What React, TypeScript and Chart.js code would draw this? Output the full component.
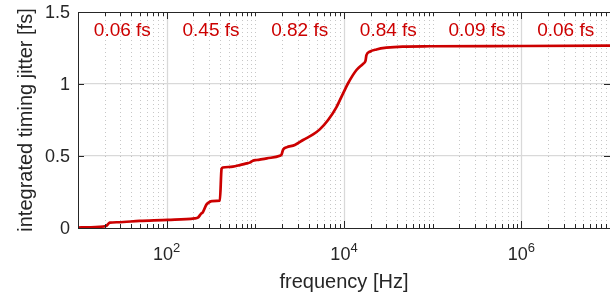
import React, { useEffect, useRef } from "react";
import { Chart, registerables } from "chart.js";

Chart.register(...registerables);

// frequency [Hz]
const freqHz = [
  10, 13, 20.7, 22.8, 28.2, 49.5, 103.5, 206.5, 225, 245, 256, 279, 291.6, 323.5,
  398, 416, 430, 558, 669, 802, 867, 937, 1040, 1349, 1888, 1974, 2058, 2248, 2787,
  3457, 4481, 5330, 6617, 8229, 9770, 11120, 13830, 16410, 17460, 17910, 19500,
  23210, 30080, 45900, 92500, 1e6, 1e7,
];
// integrated timing jitter [fs]
const jitterFs = [
  0.003, 0.005, 0.014, 0.037, 0.04, 0.049, 0.056, 0.067, 0.072, 0.1, 0.11, 0.16, 0.173, 0.187,
  0.19, 0.41, 0.42, 0.426, 0.437, 0.449, 0.454, 0.467, 0.472, 0.484, 0.502, 0.51, 0.545, 0.56, 0.576,
  0.611, 0.65, 0.685, 0.75, 0.84, 0.935, 1.005, 1.097, 1.14, 1.16, 1.2, 1.224,
  1.24, 1.252, 1.26, 1.262, 1.264, 1.266,
];
// per-decade contributions (decade start exponent -> label)
const decadeExponents = [1, 2, 3, 4, 5, 6];
const decadeLabels = ["0.06 fs", "0.45 fs", "0.82 fs", "0.84 fs", "0.09 fs", "0.06 fs"];
// labelled x tick exponents
const xTickExponents = [2, 4, 6];
const yTicks = [0, 0.5, 1, 1.5];

const FONT = "'Liberation Sans', Arial, Helvetica, sans-serif";
const AXIS = "#262626";
const RED = "#cc0000";

const axesPlugin = {
  id: "matlabAxes",
  beforeDatasetsDraw(chart: any) {
    const { ctx, chartArea: a, scales } = chart;
    const xs = scales.x;
    ctx.save();
    for (let e = 1; e <= 6; e++) {
      for (let k = 1; k <= 9; k++) {
        const v = k * Math.pow(10, e);
        if (v === 10) continue;
        const px = Math.round(xs.getPixelForValue(v)) + 0.5;
        const major = k === 1 && xTickExponents.includes(e);
        ctx.beginPath();
        if (major) {
          ctx.setLineDash([]);
          ctx.strokeStyle = "#d9d9d9";
          ctx.lineWidth = 1.3;
        } else {
          ctx.setLineDash([1, 3]);
          ctx.strokeStyle = "rgba(0,0,0,0.22)";
          ctx.lineWidth = 1;
        }
        ctx.moveTo(px, a.top);
        ctx.lineTo(px, a.bottom);
        ctx.stroke();
      }
    }
    ctx.restore();
  },
  afterDatasetsDraw(chart: any) {
    const { ctx, chartArea: a, scales } = chart;
    const xs = scales.x;
    const ys = scales.y;
    ctx.save();
    ctx.setLineDash([]);
    ctx.strokeStyle = AXIS;
    ctx.lineWidth = 1;
    // axis lines (box)
    ctx.beginPath();
    ctx.moveTo(a.left + 0.5, a.top + 0.5);
    ctx.lineTo(a.left + 0.5, a.bottom + 0.5);
    ctx.lineTo(a.right, a.bottom + 0.5);
    ctx.moveTo(a.left + 0.5, a.top + 0.5);
    ctx.lineTo(a.right, a.top + 0.5);
    ctx.stroke();
    // x ticks (inward, top and bottom)
    ctx.beginPath();
    for (let e = 1; e <= 6; e++) {
      for (let k = 1; k <= 9; k++) {
        const v = k * Math.pow(10, e);
        if (v === 10) continue;
        const px = Math.round(xs.getPixelForValue(v)) + 0.5;
        const major = k === 1 && xTickExponents.includes(e);
        const len = major ? 7 : 4;
        ctx.moveTo(px, a.bottom);
        ctx.lineTo(px, a.bottom - len);
        ctx.moveTo(px, a.top);
        ctx.lineTo(px, a.top + len);
      }
    }
    // y ticks (inward, left and right)
    for (const v of yTicks) {
      const py = Math.round(ys.getPixelForValue(v)) + 0.5;
      ctx.moveTo(a.left, py);
      ctx.lineTo(a.left + 6, py);
      ctx.moveTo(a.right, py);
      ctx.lineTo(a.right - 6, py);
    }
    ctx.stroke();
    // x tick labels with superscript
    ctx.fillStyle = AXIS;
    ctx.textBaseline = "alphabetic";
    ctx.textAlign = "left";
    for (const e of xTickExponents) {
      const px = xs.getPixelForValue(Math.pow(10, e));
      ctx.font = `18px ${FONT}`;
      const w1 = ctx.measureText("10").width;
      ctx.font = `13px ${FONT}`;
      const w2 = ctx.measureText(String(e)).width;
      const start = px - (w1 + w2) / 2;
      ctx.font = `18px ${FONT}`;
      ctx.fillText("10", start, a.bottom + 32);
      ctx.font = `13px ${FONT}`;
      ctx.fillText(String(e), start + w1, a.bottom + 23.5);
    }
    // per-decade annotations
    ctx.fillStyle = RED;
    ctx.font = `19px ${FONT}`;
    ctx.textAlign = "center";
    decadeExponents.forEach((e, i) => {
      const px = xs.getPixelForValue(Math.pow(10, e + 0.5));
      ctx.fillText(decadeLabels[i], px, a.top + 24);
    });
    ctx.restore();
  },
};

export default function App() {
  const ref = useRef<HTMLCanvasElement | null>(null);
  useEffect(() => {
    if (!ref.current) return;
    const chart = new Chart(ref.current, {
      type: "line",
      data: {
        datasets: [
          {
            data: freqHz.map((f, i) => ({ x: f, y: jitterFs[i] })),
            borderColor: RED,
            borderWidth: 2.7,
            pointRadius: 0,
            cubicInterpolationMode: "monotone",
            fill: false,
          },
        ],
      },
      options: {
        animation: false,
        responsive: true,
        maintainAspectRatio: false,
        layout: { padding: { top: 12, right: 0, left: 0, bottom: 0 } },
        plugins: { legend: { display: false }, tooltip: { enabled: false } },
        scales: {
          x: {
            type: "logarithmic",
            min: 10,
            max: 1e7,
            grid: { display: false },
            border: { display: false },
            ticks: { display: false },
            title: {
              display: true,
              text: "frequency [Hz]",
              color: AXIS,
              font: { family: FONT, size: 20 },
              padding: { top: 0, bottom: 2 },
            },
            afterFit: (s: any) => {
              s.height = 68;
              s.paddingLeft = 0;
              s.paddingRight = 0;
              s.paddingTop = 0;
              s.paddingBottom = 0;
            },
          },
          y: {
            min: 0,
            max: 1.5,
            afterBuildTicks: (s: any) => {
              s.ticks = yTicks.map((v) => ({ value: v }));
            },
            grid: {
              drawTicks: false,
              color: (c: any) =>
                c.tick && (c.tick.value === 0 || c.tick.value === 1.5) ? "rgba(0,0,0,0)" : "#d9d9d9",
              lineWidth: 1.3,
            },
            border: { display: false },
            ticks: {
              padding: 8,
              labelOffset: 1.5,
              color: AXIS,
              font: { family: FONT, size: 18 },
              callback: (v: any) => String(v),
            },
            title: {
              display: true,
              text: "integrated timing jitter [fs]",
              color: AXIS,
              font: { family: FONT, size: 20 },
              padding: { top: 14, bottom: 0 },
            },
            afterFit: (s: any) => {
              s.width = 78;
              s.paddingTop = 0;
              s.paddingBottom = 0;
              s.paddingLeft = 0;
              s.paddingRight = 0;
            },
          },
        },
      },
      plugins: [axesPlugin],
    } as any);
    return () => chart.destroy();
  }, []);
  return (
    <div style={{ position: "fixed", left: 0, top: 0, width: 610, height: 296, background: "#fff" }}>
      <canvas ref={ref} />
    </div>
  );
}
